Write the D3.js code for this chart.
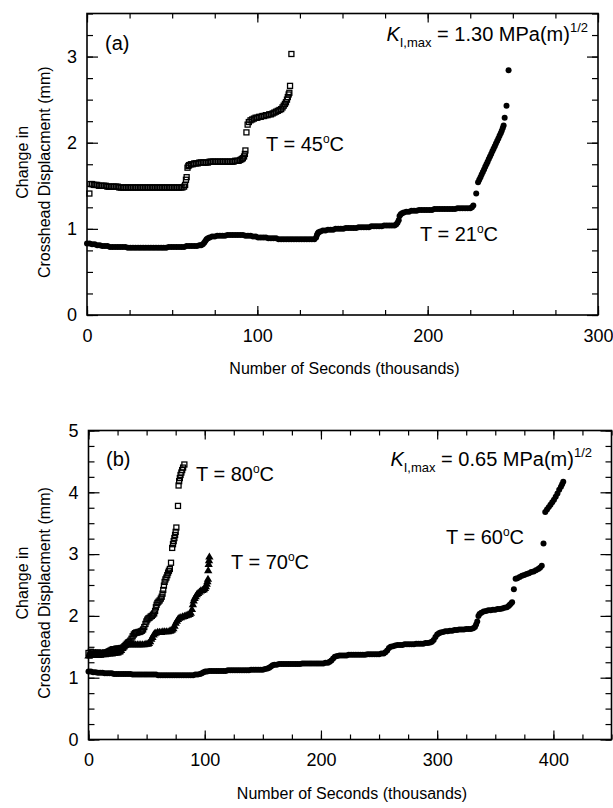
<!DOCTYPE html>
<html>
<head>
<meta charset="utf-8">
<script src="https://cdn.jsdelivr.net/npm/d3@7"></script>
<style>
  body { margin: 0; background: #fff; }
  text { font-family: "Liberation Sans", Arial, Helvetica, sans-serif; fill: #000; }
</style>
</head>
<body>
<svg id="chart" width="613" height="808"></svg>
<script>
// ---- data (x in thousands of seconds, y in mm) ----

// panel (a), K = 1.30
const t21 = [[0,0.83],[1.5,0.83],[3,0.82],[4.5,0.82],[6,0.81],[7.5,0.81],[9,0.80],[10.5,0.80],[12,0.80],[13.5,0.79],[15,0.79],[16.5,0.79],[18,0.79],[19.5,0.79],[21,0.79],[22.5,0.79],
  [24,0.78],[25.5,0.78],[27,0.78],[28.5,0.78],[30,0.78],[31.5,0.78],[33,0.78],[34.5,0.78],[36,0.78],[37.5,0.78],[39,0.78],[40.5,0.78],[42,0.78],[43.5,0.78],[45,0.78],[46.5,0.78],
  [48,0.79],[49.5,0.79],[51,0.79],[52.5,0.79],[54,0.79],[55.5,0.79],[57,0.79],[58.5,0.80],[60,0.80],[61.5,0.80],[63,0.80],[64.5,0.80],[66,0.81],[67,0.81],[68,0.82],[68.8,0.84],
  [69.5,0.86],[70.2,0.88],[71,0.89],[72,0.90],[73.5,0.91],[75,0.91],[76.5,0.92],[78,0.92],[79.5,0.92],[81,0.92],[82.5,0.93],[84,0.93],[85.5,0.93],[87,0.93],[88.5,0.93],[90,0.93],
  [91.5,0.93],[93,0.92],[94.5,0.92],[96,0.92],[97.5,0.91],[99,0.91],[100.5,0.90],[102,0.90],[103.5,0.90],[105,0.90],[106.5,0.89],[108,0.89],[109.5,0.89],[111,0.89],[112.5,0.88],
  [114,0.88],[115.5,0.88],[117,0.88],[118.5,0.88],[120,0.88],[121.5,0.88],[123,0.88],[124.5,0.88],[126,0.88],[127.5,0.88],[129,0.88],[130.5,0.88],[132,0.88],[133.5,0.88],
  [134.5,0.90],[135,0.93],[135.5,0.95],[136,0.96],[137,0.97],[138.5,0.98],[140,0.98],[141.5,0.99],[143,0.99],[144.5,0.99],[146,1.00],[147.5,1.00],[149,1.00],[150.5,1.00],
  [152,1.01],[153.5,1.01],[155,1.01],[156.5,1.01],[158,1.01],[159.5,1.02],[161,1.02],[162.5,1.02],[164,1.02],[165.5,1.02],[167,1.03],[168.5,1.03],[170,1.03],[171.5,1.03],
  [173,1.03],[174.5,1.04],[176,1.04],[177.5,1.04],[179,1.04],[180.5,1.04],[181.5,1.05],[182.3,1.07],[183,1.10],[183.5,1.15],[184.2,1.17],[185,1.18],[186,1.19],[187.5,1.20],
  [189,1.20],[190.5,1.21],[192,1.21],[193.5,1.21],[195,1.22],[196.5,1.22],[198,1.22],[199.5,1.22],[201,1.22],[202.5,1.22],[204,1.23],[205.5,1.23],[207,1.23],[208.5,1.23],
  [210,1.23],[211.5,1.23],[213,1.23],[214.5,1.23],[216,1.23],[217.5,1.24],[219,1.24],[220.5,1.24],[222,1.24],[223.5,1.24],[225,1.24],[226,1.25],[226.8,1.27],[228.5,1.41],
  [229.6,1.54],[230.3,1.57],[231,1.60],[231.7,1.63],[232.4,1.66],[233.1,1.69],[233.8,1.72],[234.5,1.75],[235.2,1.78],[235.9,1.81],[236.6,1.84],[237.3,1.87],[238,1.90],
  [238.7,1.93],[239.4,1.96],[240.1,1.99],[240.8,2.02],[241.5,2.05],[242.2,2.08],[242.9,2.11],[243.5,2.14],[244.1,2.17],[244.6,2.20],[245.2,2.29],[246.3,2.43],[247.5,2.84]];

const t45 = [[1.4,1.41],[2,1.52],[3,1.52],[4,1.51],[5,1.51],[6,1.51],[7,1.50],[8,1.50],[9,1.50],[10,1.50],[11,1.50],[12,1.49],[13,1.49],[14,1.49],[15,1.49],[16,1.49],
  [17,1.49],[18,1.49],[19,1.48],[20,1.48],[21,1.48],[22,1.48],[23,1.48],[24,1.48],[25,1.48],[26,1.48],[27,1.48],[28,1.48],[29,1.48],[30,1.48],[31,1.48],[32,1.48],[33,1.48],
  [34,1.48],[35,1.48],[36,1.48],[37,1.48],[38,1.48],[39,1.48],[40,1.48],[41,1.48],[42,1.48],[43,1.48],[44,1.48],[45,1.48],[46,1.48],[47,1.48],[48,1.48],[49,1.48],[50,1.48],
  [51,1.48],[52,1.48],[53,1.48],[54,1.48],[55,1.48],[56,1.48],[57,1.49],[57.6,1.51],[58.1,1.57],[58.5,1.60],[59,1.71],[59.5,1.73],[60,1.74],[61,1.75],[62,1.75],[63,1.76],
  [64,1.76],[65,1.76],[66,1.77],[67,1.77],[68,1.77],[69,1.77],[70,1.77],[71,1.77],[72,1.78],[73,1.78],[74,1.78],[75,1.78],[76,1.78],[77,1.78],[78,1.78],[79,1.78],[80,1.78],
  [81,1.78],[82,1.78],[83,1.78],[84,1.78],[85,1.78],[86,1.78],[87,1.79],[88,1.79],[89,1.79],[90,1.80],[90.8,1.81],[91.5,1.82],[92.2,1.84],[92.7,1.87],[93,1.91],[93.6,2.12],
  [94.3,2.21],[95,2.24],[96,2.26],[97,2.27],[98,2.28],[99,2.29],[100,2.29],[101,2.30],[102,2.30],[103,2.31],[104,2.31],[105,2.32],[106,2.32],[107,2.33],[108,2.33],[109,2.34],
  [110,2.35],[111,2.36],[112,2.37],[113,2.38],[114,2.39],[114.8,2.41],[115.5,2.43],[116.2,2.45],[116.8,2.47],[117.4,2.50],[117.9,2.53],[118.4,2.56],[118.8,2.58],[119.2,2.66],[120,3.03]];

// panel (b), K = 0.65
const t60 = [[0,1.10],[2,1.10],[4,1.09],[6,1.09],[8,1.08],[10,1.08],[12,1.08],[14,1.07],[16,1.07],[18,1.07],[20,1.07],[22,1.06],[24,1.06],[26,1.06],[28,1.06],[30,1.06],
  [32,1.06],[34,1.06],[36,1.06],[38,1.05],[40,1.05],[42,1.05],[44,1.05],[46,1.05],[48,1.05],[50,1.05],[52,1.05],[54,1.05],[56,1.05],[58,1.05],[60,1.04],[62,1.04],[64,1.04],
  [66,1.04],[68,1.04],[70,1.04],[72,1.04],[74,1.04],[76,1.04],[78,1.04],[80,1.04],[82,1.04],[84,1.04],[86,1.04],[88,1.04],[90,1.04],[92,1.05],[94,1.05],[96,1.06],[97.5,1.07],
  [99,1.09],[100.5,1.10],[102,1.10],[104,1.11],[106,1.11],[108,1.11],[110,1.11],[112,1.11],[114,1.11],[116,1.11],[118,1.11],[120,1.12],[122,1.12],[124,1.12],[126,1.12],
  [128,1.12],[130,1.12],[132,1.12],[134,1.12],[136,1.12],[138,1.12],[140,1.13],[142,1.13],[144,1.13],[146,1.13],[148,1.13],[150,1.13],[152,1.14],[154,1.15],[155.5,1.16],
  [157,1.18],[158.5,1.20],[160,1.21],[162,1.21],[164,1.22],[166,1.22],[168,1.22],[170,1.22],[172,1.22],[174,1.22],[176,1.22],[178,1.22],[180,1.22],[182,1.22],[184,1.23],
  [186,1.23],[188,1.23],[190,1.23],[192,1.23],[194,1.23],[196,1.23],[198,1.23],[200,1.23],[202,1.23],[204,1.24],[206,1.24],[207.5,1.26],[209,1.28],[210.5,1.31],[212,1.34],
  [214,1.35],[216,1.36],[218,1.36],[220,1.36],[222,1.36],[224,1.37],[226,1.37],[228,1.37],[230,1.37],[232,1.37],[234,1.37],[236,1.37],[238,1.37],[240,1.38],[242,1.38],
  [244,1.38],[246,1.38],[248,1.38],[250,1.38],[252,1.39],[254,1.39],[255.5,1.41],[257,1.44],[258.5,1.48],[260,1.50],[262,1.51],[264,1.52],[266,1.53],[268,1.53],[270,1.53],
  [272,1.54],[274,1.54],[276,1.54],[278,1.54],[280,1.54],[282,1.55],[284,1.55],[286,1.55],[288,1.55],[290,1.56],[292,1.56],[294,1.57],[295.5,1.58],[297,1.61],[298.5,1.66],
  [300,1.70],[301.5,1.72],[303,1.73],[305,1.74],[307,1.75],[309,1.75],[311,1.76],[313,1.76],[315,1.77],[317,1.77],[319,1.78],[321,1.78],[323,1.78],[325,1.79],[327,1.79],
  [329,1.79],[331,1.80],[332.5,1.82],[333.5,1.86],[334.5,1.91],[335.5,2.00],[336.5,2.03],[338,2.05],[340,2.07],[342,2.08],[344,2.09],[346,2.09],[348,2.10],[350,2.10],
  [352,2.11],[354,2.11],[356,2.12],[358,2.13],[360,2.14],[361.5,2.16],[362.5,2.18],[363.5,2.20],[364.5,2.22],[366,2.43],[367.5,2.60],[369,2.61],[371,2.63],[373,2.65],
  [375,2.66],[377,2.68],[379,2.69],[381,2.71],[383,2.72],[385,2.74],[387,2.76],[388.5,2.78],[390,2.81],[391.5,3.17],[393,3.68],[394.5,3.72],[396,3.76],[397.5,3.80],
  [399,3.84],[400.5,3.88],[402,3.93],[403.5,3.98],[405,4.04],[406.5,4.09],[407.5,4.13],[408.5,4.17]];

const t70 = [[0,1.35],[1,1.38],[2,1.36],[3,1.38],[4,1.36],[5,1.37],[6,1.38],[7,1.36],[8,1.38],[9,1.37],[10,1.36],[11,1.38],[12,1.37],[13,1.38],[14,1.37],[15,1.38],[16,1.38],
  [17,1.39],[18,1.38],[19,1.39],[20,1.38],[21,1.39],[22,1.39],[23,1.40],[24,1.40],[25,1.40],[26,1.41],[27,1.42],[28,1.44],[29,1.47],[30,1.50],[31,1.52],[32,1.53],[33,1.53],
  [34.5,1.53],[36,1.53],[37.5,1.53],[39,1.53],[40.5,1.53],[42,1.53],[43.5,1.53],[45,1.53],[46.5,1.53],[48,1.53],[49.5,1.54],[51,1.54],[52,1.55],[53,1.58],[54,1.62],[55,1.65],
  [56,1.69],[57,1.71],[58,1.72],[59.5,1.73],[61,1.73],[62.5,1.73],[64,1.74],[65.5,1.74],[67,1.74],[68.5,1.74],[70,1.75],[71,1.76],[72,1.77],[73,1.79],[74,1.83],[75,1.88],
  [76,1.91],[77,1.94],[78,1.96],[79.5,1.97],[81,1.98],[82.5,1.99],[84,2.00],[85.5,2.01],[87,2.02],[88,2.04],[89,2.10],[89.8,2.18],[90.5,2.24],[91.3,2.28],[92.2,2.31],
  [93.2,2.34],[94.3,2.36],[95.5,2.38],[96.7,2.40],[98,2.41],[99.2,2.42],[100.2,2.44],[101,2.47],[101.7,2.51],[102.3,2.55],[102.8,2.59],[103,2.73],[103.4,2.83],[103.7,2.89],[104,2.95]];

const t80 = [[0,1.40],[1,1.36],[2,1.42],[3,1.38],[4,1.41],[5,1.37],[6,1.40],[7,1.38],[8,1.41],[9,1.37],[10,1.40],[11,1.38],[12,1.40],[13,1.39],[14,1.41],[15,1.39],
  [16,1.41],[17,1.42],[18,1.43],[19,1.44],[20,1.45],[21,1.46],[22,1.46],[23,1.46],[24,1.47],[25,1.47],[26,1.47],[27,1.47],[28,1.48],[29,1.48],[30,1.49],[31,1.51],[32,1.53],
  [33,1.55],[34,1.57],[35,1.58],[36,1.60],[37,1.63],[38,1.67],[39,1.70],[40,1.72],[41,1.73],[42,1.73],[43,1.74],[44,1.74],[45,1.75],[46,1.76],[47,1.78],[48,1.82],[49,1.87],
  [49.8,1.91],[50.6,1.94],[51.5,1.96],[52.5,1.97],[53.5,1.99],[54.5,2.00],[55.5,2.02],[56.5,2.04],[57.3,2.08],[58,2.14],[58.6,2.18],[59.3,2.21],[60.2,2.23],[61.2,2.25],
  [62.2,2.28],[63,2.31],[63.7,2.36],[64.3,2.42],[64.9,2.49],[65.5,2.55],[66.2,2.59],[67,2.62],[67.8,2.66],[68.5,2.70],[69.2,2.73],[70,2.76],[71,2.86],[72,3.10],[72.7,3.16],
  [73.3,3.21],[73.9,3.26],[74.5,3.31],[75,3.36],[75.6,3.43],[77,3.78],[77.5,4.11],[78,4.18],[78.6,4.23],[79.2,4.28],[79.9,4.32],[80.6,4.36],[81.4,4.40],[82.5,4.45]];

// tick values
const xTicksA = [0, 100, 200, 300];
const yTicksA = [0, 1, 2, 3];
const xTicksB = [0, 100, 200, 300, 400];
const yTicksB = [0, 1, 2, 3, 4, 5];

// ---- layout ----
const svg = d3.select('#chart');

const panels = [
  { left: 87, right: 598, top: 13.5, bottom: 315, xMax: 300, yMax: 3.5,
    xTicks: xTicksA, yTicks: yTicksA },
  { left: 88.5, right: 611.5, top: 430.5, bottom: 739.5, xMax: 450, yMax: 5,
    xTicks: xTicksB, yTicks: yTicksB }
];

function makePanel(p) {
  const g = svg.append('g');
  const x = d3.scaleLinear().domain([0, p.xMax]).range([p.left, p.right]);
  const y = d3.scaleLinear().domain([0, p.yMax]).range([p.bottom, p.top]);
  const xMinor = d3.range(0, p.xMax + 0.01, 25);
  const yMinor = d3.range(0, p.yMax + 0.001, 0.25);
  const fmt = d3.format('d');

  // minor ticks on all four sides, pointing in
  g.append('g').attr('transform', `translate(0,${p.bottom})`)
    .call(d3.axisBottom(x).tickValues(xMinor).tickSize(-5).tickFormat(''));
  g.append('g').attr('transform', `translate(0,${p.top})`)
    .call(d3.axisTop(x).tickValues(xMinor).tickSize(-5).tickFormat(''));
  g.append('g').attr('transform', `translate(${p.left},0)`)
    .call(d3.axisLeft(y).tickValues(yMinor).tickSize(-6).tickFormat(''));
  g.append('g').attr('transform', `translate(${p.right},0)`)
    .call(d3.axisRight(y).tickValues(yMinor).tickSize(-6).tickFormat(''));

  // major ticks, labels on bottom and left
  g.append('g').attr('class', 'lab').attr('transform', `translate(0,${p.bottom})`)
    .call(d3.axisBottom(x).tickValues(p.xTicks).tickSize(-9).tickPadding(14).tickFormat(fmt));
  g.append('g').attr('class', 'lab').attr('transform', `translate(${p.left},0)`)
    .call(d3.axisLeft(y).tickValues(p.yTicks).tickSize(-11).tickPadding(10).tickFormat(fmt));
  g.append('g').attr('transform', `translate(0,${p.top})`)
    .call(d3.axisTop(x).tickValues(p.xTicks).tickSize(-9).tickFormat(''));
  g.append('g').attr('transform', `translate(${p.right},0)`)
    .call(d3.axisRight(y).tickValues(p.yTicks).tickSize(-11).tickFormat(''));

  g.selectAll('.domain').remove();
  g.selectAll('.tick line').attr('stroke', '#000').attr('stroke-width', 1.2);
  g.selectAll('.lab text').attr('font-size', 18).attr('fill', '#000');

  g.append('rect')
    .attr('x', p.left).attr('y', p.top)
    .attr('width', p.right - p.left).attr('height', p.bottom - p.top)
    .attr('fill', 'none').attr('stroke', '#000').attr('stroke-width', 1.6);

  // axis titles
  g.append('text')
    .attr('x', (p.left + p.right) / 2 + 2).attr('y', p.bottom + 59)
    .attr('text-anchor', 'middle').attr('font-size', 16)
    .text('Number of Seconds (thousands)');
  const cy = (p.top + p.bottom) / 2;
  g.append('text')
    .attr('transform', `translate(28,${cy - 2}) rotate(-90)`)
    .attr('text-anchor', 'middle').attr('font-size', 16)
    .text('Change in');
  g.append('text')
    .attr('transform', `translate(50,${cy + 8}) rotate(-90)`)
    .attr('text-anchor', 'middle').attr('font-size', 16)
    .text('Crosshead Displacment (mm)');

  return { g, x, y };
}

function drawPoints(pn, pts, kind) {
  const s = pn.g.append('g');
  if (kind === 'circle') {
    s.selectAll('circle').data(pts).join('circle')
      .attr('cx', d => pn.x(d[0])).attr('cy', d => pn.y(d[1]))
      .attr('r', 3).attr('fill', '#000');
  } else if (kind === 'square') {
    s.selectAll('rect').data(pts).join('rect')
      .attr('x', d => pn.x(d[0]) - 2.5).attr('y', d => pn.y(d[1]) - 2.5)
      .attr('width', 5).attr('height', 5)
      .attr('fill', 'none').attr('stroke', '#000').attr('stroke-width', 1.3);
  } else {
    const tri = d3.symbol().type(d3.symbolTriangle).size(30);
    s.selectAll('path').data(pts).join('path')
      .attr('transform', d => `translate(${pn.x(d[0])},${pn.y(d[1])})`)
      .attr('d', tri).attr('fill', '#000');
  }
}

// "T = xx°C" with a raised small o
function tempLabel(g, x, y, val) {
  const t = g.append('text').attr('x', x).attr('y', y).attr('font-size', 20);
  t.append('tspan').text(`T = ${val}`);
  t.append('tspan').attr('font-size', 12).attr('dy', -8).text('o');
  t.append('tspan').attr('dy', 8).text('C');
}

function kLabel(g, x, y, val) {
  const t = g.append('text').attr('x', x).attr('y', y).attr('font-size', 20)
    .attr('text-anchor', 'end');
  t.append('tspan').attr('font-style', 'italic').text('K');
  t.append('tspan').attr('font-size', 13).attr('dy', 6).text('I,max');
  t.append('tspan').attr('dy', -6).text(` = ${val} MPa(m)`);
  t.append('tspan').attr('font-size', 13).attr('dy', -9).text('1/2');
}

const pa = makePanel(panels[0]);
drawPoints(pa, t21, 'circle');
drawPoints(pa, t45, 'square');
pa.g.append('text').attr('x', 105).attr('y', 50).attr('font-size', 20).text('(a)');
kLabel(pa.g, 588, 41, '1.30');
tempLabel(pa.g, 266, 151, '45');
tempLabel(pa.g, 420, 241, '21');

const pb = makePanel(panels[1]);
drawPoints(pb, t60, 'circle');
drawPoints(pb, t70, 'triangle');
drawPoints(pb, t80, 'square');
pb.g.append('text').attr('x', 106).attr('y', 466).attr('font-size', 20).text('(b)');
kLabel(pb.g, 592, 466, '0.65');
tempLabel(pb.g, 196, 481, '80');
tempLabel(pb.g, 231, 569, '70');
tempLabel(pb.g, 446, 544, '60');
</script>
</body>
</html>
